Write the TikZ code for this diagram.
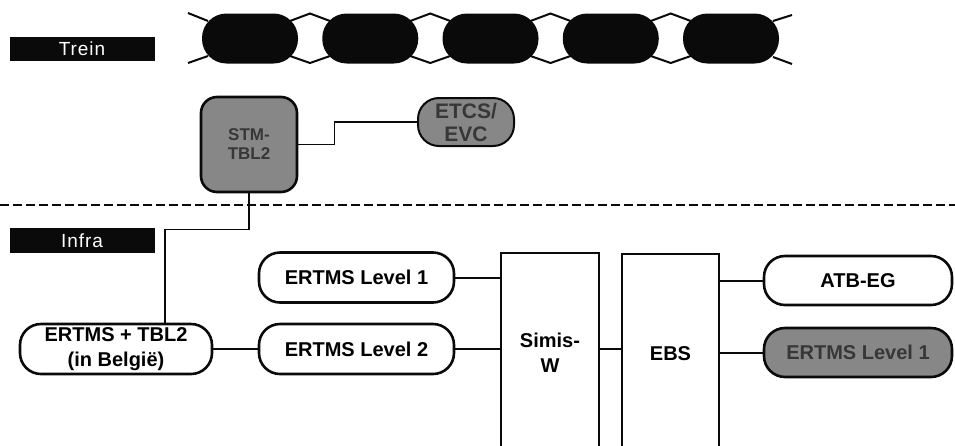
\documentclass[tikz,border=0pt]{standalone}
\usepackage{fontspec}
\setmainfont{Liberation Sans}
\newfontfamily\tagfont[LetterSpace=5]{Liberation Sans}
\usepackage{xcolor}
\definecolor{railblack}{RGB}{10,10,10}
\definecolor{scangray}{RGB}{135,135,135}
\definecolor{inkgray}{RGB}{55,55,55}

\begin{document}
\begin{tikzpicture}[x=1pt, y=-1pt,
    tagbar/.style={fill=railblack, text=white, minimum width=145pt, minimum height=24pt, inner sep=0pt, font=\tagfont\fontsize{19}{20}\selectfont},
    capsule/.style={draw=railblack, line width=2.6pt, rounded corners=21pt, minimum height=50pt, inner sep=0pt, align=center, font=\bfseries\fontsize{20}{27}\selectfont},
    grayfill/.style={fill=scangray, text=inkgray},
    unitbox/.style={draw=railblack, line width=2.8pt, minimum width=98pt, minimum height=200pt, inner sep=0pt, align=center, font=\bfseries\fontsize{20}{25}\selectfont},
    link/.style={railblack, line width=2pt},
    thinlink/.style={railblack, line width=1.5pt}]
    \useasboundingbox (0,0) rectangle (955,445);

    % Trein and Infra labels
    \node[tagbar] (trein) at (82,49) {Trein};
    \node[tagbar, minimum height=25pt] (infra) at (82,240.5) {Infra};

    % Couplings between the coaches
    \foreach \x in {250,370.25,490.5,610.75} {
        \draw[railblack, line width=2pt] (\x+40,21) -- (\x+60,13.5) -- (\x+80,21);
        \draw[railblack, line width=2pt] (\x+40,56) -- (\x+60,63) -- (\x+80,56);
    }
    \draw[railblack, line width=2pt] (188,13) -- (208,21);
    \draw[railblack, line width=2pt] (188,63) -- (208,56);
    \draw[railblack, line width=2pt] (773,21) -- (792,15);
    \draw[railblack, line width=2pt] (773,57) -- (792,64);

    % Coaches
    \foreach \i in {0,...,4}
        \node[fill=railblack, rounded corners=24.5pt, minimum width=96pt, minimum height=50pt, inner sep=0pt]
            (coach\i) at (250+120.25*\i,38.5) {};

    % Train equipment
    \node[capsule, grayfill, rounded corners=16pt, minimum width=96pt, minimum height=95pt,
          font=\bfseries\fontsize{17}{19}\selectfont] (stm) at (249,144.5) {STM-\\TBL2};
    \node[capsule, grayfill, minimum width=96pt, minimum height=48pt, line width=2pt,
          font=\bfseries\fontsize{21}{23}\selectfont] (etcs) at (466,122) {ETCS/\\EVC};
    \draw[thinlink] (stm.east) -- ++(36,0) |- (etcs.west);

    % Border train / infra
    \draw[railblack, line width=2.2pt, dash pattern=on 9pt off 4pt] (0,205) -- (955,205);

    % Infra equipment
    \node[capsule, minimum width=192pt] (tbl) at (116,349) {ERTMS + TBL2\\[-2pt](in België)};
    \node[capsule, minimum width=195pt] (lvlone) at (356.5,277.5) {ERTMS Level 1};
    \node[capsule, minimum width=195pt] (lvltwo) at (356.5,349) {ERTMS Level 2};
    \node[unitbox] (simis) at (550,353) {Simis-\\W};
    \node[unitbox, minimum width=97pt] (ebs) at (670.5,354) {EBS};
    \node[capsule, minimum width=188pt, minimum height=49pt] (atb) at (858,280.5) {ATB-EG};
    \node[capsule, grayfill, minimum width=188pt, minimum height=49pt] (lvlgray) at (858,352.5) {ERTMS Level 1};

    % Connections
    \draw[thinlink] (stm.south) -- ++(0,36) -| ([xshift=49pt]tbl.north);
    \draw[link] (tbl.east) -- (lvltwo.west);
    \draw[link] (lvlone.east) -- (lvlone.east -| simis.west);
    \draw[link] (lvltwo.east) -- (lvltwo.east -| simis.west);
    \draw[link] (simis.east |- lvltwo.east) -- (lvltwo.east -| ebs.west);
    \draw[link] (atb.west -| ebs.east) -- (atb.west);
    \draw[link] (lvlgray.west -| ebs.east) -- (lvlgray.west);
\end{tikzpicture}
\end{document}
